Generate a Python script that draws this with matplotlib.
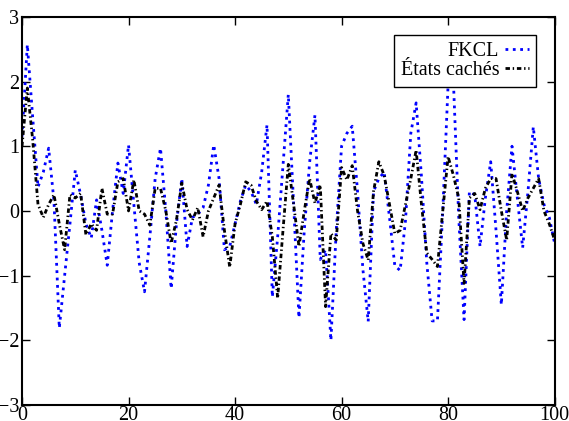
import numpy as np
import matplotlib
matplotlib.use("Agg")
import matplotlib.pyplot as plt

plt.rcParams['font.family'] = ['Liberation Serif', 'DejaVu Serif']

# values, one per step t = 0..100
t = np.arange(0, 101)
fkcl = [1.15, 2.57, 1.45, 0.37, 0.6, 0.97, 0.15, -1.81, -1.0, -0.2,
        0.63, 0.25, -0.2, -0.42, 0.17, -0.3, -0.84, 0.0, 0.74, 0.27,
        1.02, 0.1, -0.8, -1.25, -0.4, 0.5, 0.97, 0.0, -1.2, -0.2,
        0.5, -0.55, -0.1, -0.05, 0.05, 0.4, 1.02, 0.5, -0.6, -0.55,
        -0.2, 0.15, 0.4, 0.3, 0.1, 0.6, 1.33, -1.33, -0.4, 0.7,
        1.8, 0.1, -1.65, -0.3, 0.75, 1.48, -0.75, -0.6, -2.0, -0.3,
        1.0, 1.2, 1.31, 0.3, -0.9, -1.71, 0.3, 0.5, 0.6, -0.1,
        -0.85, -0.92, -0.15, 1.2, 1.67, 0.53, -0.8, -1.7, -1.7, 0.0,
        1.95, 2.0, -0.1, -1.68, 0.3, 0.25, -0.55, 0.2, 0.76, -0.3,
        -1.45, 0.0, 1.0, 0.2, -0.57, 0.3, 1.3, 0.5, 0.1, -0.1,
        -0.5]
etats = [1.0, 1.9, 1.1, 0.1, -0.1, 0.1, 0.25, -0.2, -0.6, 0.25,
         0.2, 0.27, -0.37, -0.2, -0.3, 0.35, -0.05, -0.05, 0.45, 0.5,
         0.0, 0.48, 0.0, -0.05, -0.22, 0.35, 0.35, 0.0, -0.5, -0.14,
         0.43, 0.02, -0.14, 0.05, -0.4, 0.0, 0.2, 0.4, -0.3, -0.87,
         -0.2, 0.1, 0.45, 0.4, 0.15, 0.02, 0.15, -0.4, -1.35, -0.3,
         0.72, 0.1, -0.55, 0.0, 0.5, 0.12, 0.4, -1.48, -0.35, -0.45,
         0.67, 0.48, 0.7, 0.0, -0.5, -0.76, 0.3, 0.76, 0.55, 0.1,
         -0.35, -0.3, 0.1, 0.5, 0.94, 0.1, -0.65, -0.75, -0.86, 0.0,
         0.84, 0.55, 0.2, -1.12, 0.2, 0.27, 0.02, 0.35, 0.5, 0.5,
         0.0, -0.45, 0.58, 0.3, 0.0, 0.2, 0.35, 0.5, 0.0, -0.2,
         -0.45]

fig = plt.figure(figsize=(5.69, 4.21), dpi=100)
ax = fig.add_axes([0.0387, 0.038, 0.936, 0.922])

ax.plot(t, fkcl, color='#0000ff', ls=':', lw=2, label='FKCL')
ax.plot(t, etats, color='black', lw=2, dashes=[1.6, 1.0, 0.5, 1.0],
        label='États cachés')

ax.set_xlim(0, 100)
ax.set_ylim(-3, 3)
ax.set_xticks([0, 20, 40, 60, 80, 100])
ax.set_yticks([-3, -2, -1, 0, 1, 2, 3])
ax.tick_params(direction='in', top=True, right=True, length=6, width=1,
               labelsize=14.5)
ax.tick_params(axis='x', pad=1)
ax.tick_params(axis='y', pad=2)
for s in ax.spines.values():
    s.set_linewidth(1.5)

leg = ax.legend(loc='upper right', markerfirst=False, fontsize=14.5,
                handlelength=1.2, handletextpad=0.3, borderpad=0.35,
                labelspacing=0.0, fancybox=False, framealpha=1,
                borderaxespad=0, bbox_to_anchor=(0.966, 0.953))
leg.get_frame().set_edgecolor('black')
leg.get_frame().set_linewidth(1)
for txt in leg.get_texts():
    txt.set_ha('right')

fig.savefig('out.png', dpi=100)
